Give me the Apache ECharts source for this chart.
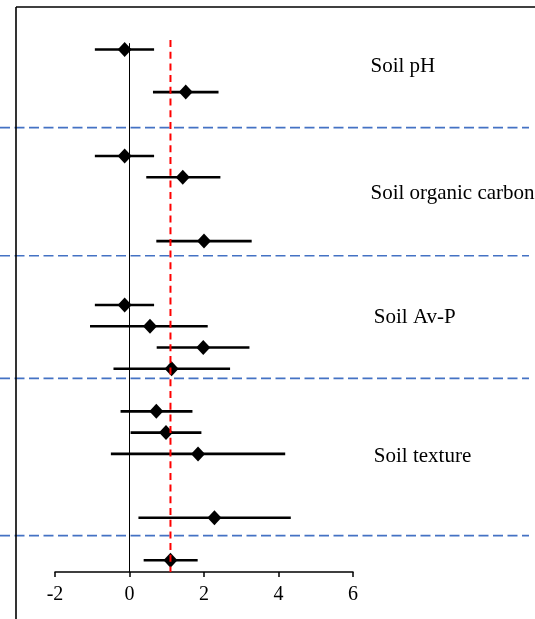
<!DOCTYPE html>
<html>
<head>
<meta charset="utf-8">
<script src="https://cdn.jsdelivr.net/npm/echarts@6/dist/echarts.min.js"></script>
<style>
  html, body { margin: 0; padding: 0; background: #fff; }
  #chart { width: 535px; height: 619px; }
</style>
</head>
<body>
<div id="chart"></div>
<script>
// Forest plot: effect sizes with confidence intervals, grouped by soil property.

// Row position of each estimate (counted from the top of the plot)
const rows   = [2, 4, 7, 8, 11, 14, 15, 16, 17, 19, 20, 21, 24, 26];
// Point estimates
const effect = [-0.13, 1.51, -0.13, 1.43, 2.00, -0.13, 0.55, 1.98, 1.13, 0.72, 0.98, 1.84, 2.28, 1.10];
// Confidence interval bounds
const lower  = [-0.93, 0.63, -0.93, 0.45, 0.72, -0.93, -1.06, 0.73, -0.43, -0.24, 0.03, -0.50, 0.24, 0.38];
const upper  = [0.66, 2.39, 0.66, 2.44, 3.28, 0.66, 2.10, 3.22, 2.70, 1.69, 1.93, 4.18, 4.33, 1.83];

// Group names, the row where each name sits, and the separators between groups
const groupNames = ['Soil pH', 'Soil organic carbon', 'Soil Av-P', 'Soil texture'];
const groupRows  = [2.78, 8.78, 14.58, 21.1];
const groupX     = [6.47, 6.47, 6.56, 6.56];
const separators = [5.67, 11.69, 17.45, 24.84];

// Overall mean effect (red reference line)
const overall = 1.1;

// Axis ticks
const xTicks = [-2, 0, 2, 4, 6];

const rowMax = 26.55;
const gridLeft = 55, gridRight = 182;
const unitPx = (535 - gridLeft - gridRight) / (xTicks[xTicks.length - 1] - xTicks[0]);
const wideMin = xTicks[0] - gridLeft / unitPx;
const wideMax = xTicks[xTicks.length - 1] + gridRight / unitPx;

const serif = 'Liberation Serif, Times New Roman, serif';

const chart = echarts.init(document.getElementById('chart'));

const ciData = rows.map((r, i) => [lower[i], upper[i], r]);
const pointData = rows.map((r, i) => [effect[i], r]);

const sepSeries = separators.map(s => ({
  type: 'line',
  xAxisIndex: 1, yAxisIndex: 1,
  data: [[wideMin, s], [wideMin + (529 / 535) * (wideMax - wideMin), s]],
  symbol: 'none',
  silent: true,
  lineStyle: { color: '#4472C4', width: 1.7, type: [10, 4.5] },
  z: 3
}));

chart.setOption({
  animation: false,
  backgroundColor: '#fff',
  grid: [
    { left: gridLeft, right: gridRight, top: 7, bottom: 47 },
    { left: 0, right: 0, top: 7, bottom: 47 }
  ],
  xAxis: [
    {
      gridIndex: 0, type: 'value', position: 'bottom',
      min: xTicks[0], max: xTicks[xTicks.length - 1], interval: 2,
      axisLine: { show: true, onZero: false, lineStyle: { color: '#000', width: 1.5 } },
      axisTick: { show: true, length: 5, lineStyle: { color: '#000', width: 1.5 } },
      axisLabel: { color: '#000', fontFamily: serif, fontSize: 20, margin: 13 },
      splitLine: { show: false }
    },
    {
      gridIndex: 1, type: 'value', min: wideMin, max: wideMax, show: false
    }
  ],
  yAxis: [
    { gridIndex: 0, type: 'value', min: 0, max: rowMax, inverse: true, show: false },
    { gridIndex: 1, type: 'value', min: 0, max: rowMax, inverse: true, show: false }
  ],
  graphic: [
    // Frame: left and top borders
    { type: 'line', shape: { x1: 16, y1: 7, x2: 16, y2: 619 }, style: { stroke: '#000', lineWidth: 1.6 }, z: 10 },
    { type: 'line', shape: { x1: 16, y1: 7, x2: 535, y2: 7 }, style: { stroke: '#000', lineWidth: 1.5 }, z: 10 }
  ],
  series: [
    // Line of no effect
    {
      type: 'line', xAxisIndex: 0, yAxisIndex: 0,
      data: [[0, 1.7], [0, rowMax]],
      symbol: 'none', silent: true,
      lineStyle: { color: '#000', width: 1 }, z: 1
    },
    ...sepSeries,
    // Confidence intervals
    {
      type: 'custom', xAxisIndex: 0, yAxisIndex: 0,
      data: ciData,
      renderItem: (params, api) => {
        const a = api.coord([api.value(0), api.value(2)]);
        const b = api.coord([api.value(1), api.value(2)]);
        return {
          type: 'line',
          shape: { x1: a[0], y1: a[1], x2: b[0], y2: b[1] },
          style: { stroke: '#000', lineWidth: 2.6 }
        };
      },
      z: 4
    },
    // Point estimates
    {
      type: 'scatter', xAxisIndex: 0, yAxisIndex: 0,
      data: pointData,
      symbol: 'diamond', symbolSize: [14, 15],
      itemStyle: { color: '#000', opacity: 1 },
      z: 5
    },
    // Overall mean
    {
      type: 'line', xAxisIndex: 0, yAxisIndex: 0,
      data: [[overall, 1.55], [overall, rowMax]],
      symbol: 'none', silent: true,
      lineStyle: { color: '#FF0000', width: 2, type: [7, 4.7] },
      z: 6
    },
    // Group names
    {
      type: 'scatter', xAxisIndex: 1, yAxisIndex: 1,
      data: groupNames.map((n, i) => ({ value: [groupX[i], groupRows[i]], name: n })),
      symbolSize: 0,
      itemStyle: { opacity: 1 },
      label: {
        show: true, position: 'right', distance: 0,
        formatter: p => p.name,
        color: '#000', fontFamily: serif, fontSize: 21
      },
      z: 7
    }
  ]
});
</script>
</body>
</html>
